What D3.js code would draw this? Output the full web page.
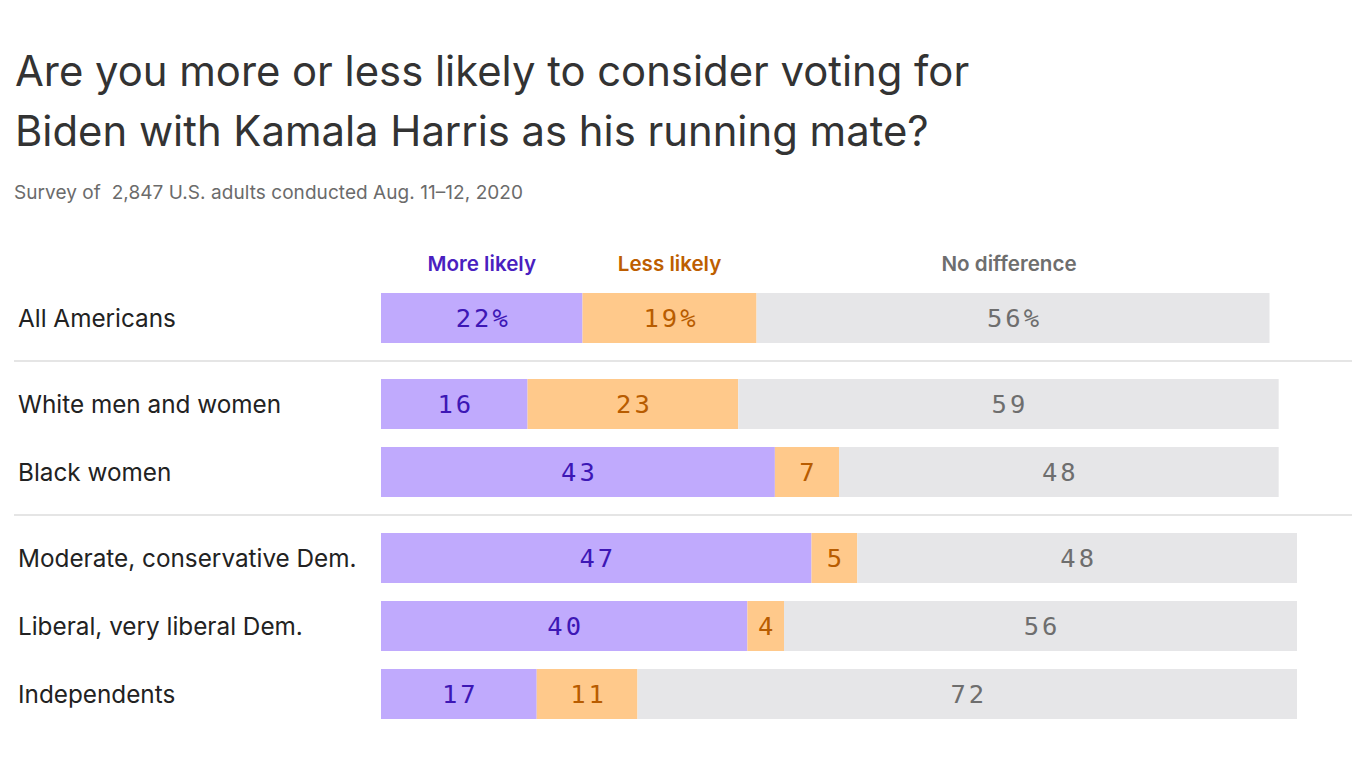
<!DOCTYPE html>
<html><head><meta charset="utf-8">
<script src="https://cdn.jsdelivr.net/npm/d3@7"></script>
<style>body{margin:0;background:#fff;} svg{display:block;} text{white-space:pre;}</style>
</head><body>
<svg id="c" width="1366" height="768"></svg>
<script>
const categories = ["All Americans","White men and women","Black women","Moderate, conservative Dem.","Liberal, very liberal Dem.","Independents"];
const groups = [0,1,1,2,2,2];
const moreLikely = [22,16,43,47,40,17];
const lessLikely = [19,23,7,5,4,11];
const noDifference = [56,59,48,48,56,72];
const seriesNames = ["More likely","Less likely","No difference"];
const showPct = [true,false,false,false,false,false];

const svg = d3.select("#c");
const barFill = ["#c0aafd","#ffc98b","#e6e6e8"];
const textFill = ["#3d17b5","#b85c00","#6e6e6e"];
const legendFill = ["#4a1fc0","#bd5e00","#6e6e6e"];

svg.append("text").attr("x",15).attr("y",86).attr("font-family","Inter").attr("font-size",41.8).attr("fill","#333")
  .text("Are you more or less likely to consider voting for");
svg.append("text").attr("x",15).attr("y",146).attr("font-family","Inter").attr("font-size",41.8).attr("fill","#333")
  .text("Biden with Kamala Harris as his running mate?");
svg.append("text").attr("x",14).attr("y",199).attr("font-family","Inter").attr("font-size",19).attr("fill","#6b6b6b")
  .attr("textLength",509).attr("lengthAdjust","spacing")
  .text("Survey of  2,847 U.S. adults conducted Aug. 11–12, 2020");

const x = d3.scaleLinear().domain([0,100]).range([381,1297]);
const slot = categories.map((c,i)=> i*68 + groups[i]*18);
const y = d3.scaleLinear().domain([0,1]).range([293,294]);
const barH = 50;

const data = categories.map((c,i)=>({cat:c,i,vals:[moreLikely[i],lessLikely[i],noDifference[i]]}));
const stack = d3.stack().keys([0,1,2])(data.map(d=>d.vals));

const rows = svg.selectAll("g.row").data(data).join("g").attr("class","row")
  .attr("transform",d=>`translate(0,${y(slot[d.i])})`);

rows.append("text").attr("x",18).attr("y",barH/2).attr("dy","0.35em")
  .attr("font-family","Inter").attr("font-size",24.3).attr("fill","#222").text(d=>d.cat);

stack.forEach((layer,k)=>{
  rows.append("rect")
    .attr("x",d=>x(layer[d.i][0])).attr("y",0)
    .attr("width",d=>x(layer[d.i][1])-x(layer[d.i][0])).attr("height",barH)
    .attr("fill",barFill[k]);
  rows.append("text")
    .attr("x",d=>(x(layer[d.i][0])+x(layer[d.i][1]))/2 + 1.5).attr("y",barH/2).attr("dy","0.36em")
    .attr("text-anchor","middle").attr("font-family","DejaVu Sans Mono").attr("font-size",25.5)
    .attr("letter-spacing",3).attr("fill",textFill[k])
    .text(d=>d.vals[k] + (showPct[d.i]?"%":""));
});

// legend centred over first row segments
seriesNames.forEach((n,k)=>{
  const l = stack[k][0];
  svg.append("text").attr("x",(x(l[0])+x(l[1]))/2 - (k===2?4:0)).attr("y",271).attr("text-anchor","middle")
    .attr("font-family","Inter").attr("font-weight",600).attr("font-size",20.6).attr("fill",legendFill[k]).text(n);
});

// separators between groups
const sepY = [1,3].map(i => (y(slot[i-1])+barH + y(slot[i]))/2);
svg.selectAll("line.sep").data(sepY).join("line").attr("class","sep")
  .attr("x1",14).attr("x2",1352).attr("y1",d=>d).attr("y2",d=>d)
  .attr("stroke","#dddddd").attr("stroke-width",1.5);
</script>
</body></html>
